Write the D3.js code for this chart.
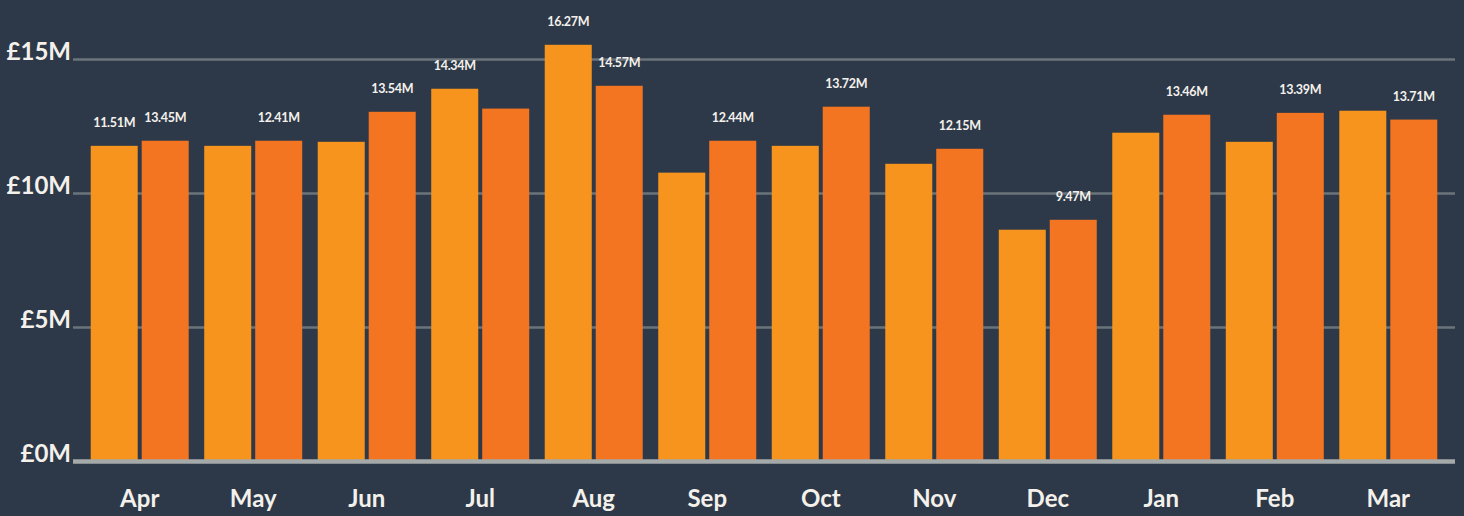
<!DOCTYPE html>
<html>
<head>
<meta charset="utf-8">
<script src="https://cdn.jsdelivr.net/npm/d3@7"></script>
<style>
  html, body { margin: 0; padding: 0; background: #2d3948; }
  svg { display: block; }
</style>
</head>
<body>
<div id="chart"></div>
<script>
// months of the financial year
const months = ["Apr", "May", "Jun", "Jul", "Aug", "Sep", "Oct", "Nov", "Dec", "Jan", "Feb", "Mar"];
// bar heights, £M
const seriesA = [11.76, 11.76, 11.91, 13.89, 15.53, 10.76, 11.76, 11.09, 8.63, 12.25, 11.91, 13.07];
const seriesB = [11.95, 11.95, 13.03, 13.15, 14.00, 11.95, 13.22, 11.65, 9.00, 12.92, 12.99, 12.74];
// value labels shown above bars (null = no label)
const labelsA = ["11.51M", null, null, "14.34M", "16.27M", null, null, null, null, null, null, null];
const labelsB = ["13.45M", "12.41M", "13.54M", null, "14.57M", "12.44M", "13.72M", "12.15M", "9.47M", "13.46M", "13.39M", "13.71M"];
const yTicks = [0, 5, 10, 15];

const width = 1464, height = 516;
const margin = { left: 73, right: 9, top: 59, bottom: 55 };
const colors = ["#f7941d", "#f37421"];
const font = "Lato, 'Open Sans', sans-serif";

const svg = d3.select("#chart").append("svg")
  .attr("width", width)
  .attr("height", height)
  .style("background", "#2d3948");

const x0 = d3.scaleBand()
  .domain(months)
  .range([margin.left, width - margin.right])
  .paddingInner(0.1366)
  .paddingOuter(0.156);

const x1 = d3.scaleBand()
  .domain([0, 1])
  .range([0, x0.bandwidth()])
  .paddingInner(0.078);

const y = d3.scaleLinear()
  .domain([0, 15])
  .range([461, margin.top]);

// gridlines + y labels
const yAxis = d3.axisLeft(y)
  .tickValues(yTicks)
  .tickSize(-(width - margin.right - margin.left))
  .tickPadding(2)
  .tickFormat(d => "£" + d + "M");

const gy = svg.append("g")
  .attr("transform", `translate(${margin.left},0)`)
  .call(yAxis);
gy.select(".domain").remove();
gy.selectAll("line")
  .attr("stroke", "#6b747b")
  .attr("stroke-width", 2.5);
gy.selectAll("text")
  .attr("dy", "0")
  .attr("fill", "#f4f1ec")
  .style("font-family", font)
  .style("font-weight", "bold")
  .style("font-size", "24px");

const rows = months.map((m, i) => ({
  month: m,
  vals: [
    { k: 0, v: seriesA[i], label: labelsA[i] },
    { k: 1, v: seriesB[i], label: labelsB[i] }
  ]
}));

const groups = svg.selectAll("g.month")
  .data(rows)
  .join("g")
  .attr("class", "month")
  .attr("transform", d => `translate(${x0(d.month)},0)`);

groups.selectAll("rect")
  .data(d => d.vals)
  .join("rect")
  .attr("x", d => x1(d.k))
  .attr("y", d => y(d.v))
  .attr("width", x1.bandwidth())
  .attr("height", d => y(0) - y(d.v))
  .attr("fill", d => colors[d.k]);

groups.selectAll("text")
  .data(d => d.vals.filter(v => v.label))
  .join("text")
  .attr("x", d => x1(d.k) + x1.bandwidth() / 2)
  .attr("y", d => y(d.v) - 18.5)
  .attr("text-anchor", "middle")
  .attr("fill", "#f4f1ec")
  .style("font-family", font)
  .style("font-weight", "bold")
  .style("font-size", "12.5px")
  .style("letter-spacing", "-0.3px")
  .text(d => d.label);

// baseline
svg.append("line")
  .attr("x1", margin.left)
  .attr("x2", width - margin.right)
  .attr("y1", y(0) + 0.5)
  .attr("y2", y(0) + 0.5)
  .attr("stroke", "#a4a9a9")
  .attr("stroke-width", 4.5);

// month labels
const xAxis = d3.axisBottom(x0).tickSize(0).tickPadding(0);
const gx = svg.append("g")
  .attr("transform", `translate(0,507)`)
  .call(xAxis);
gx.select(".domain").remove();
gx.selectAll("text")
  .attr("dy", "0")
  .attr("y", 0)
  .attr("fill", "#f4f1ec")
  .style("font-family", font)
  .style("font-weight", "bold")
  .style("font-size", "24px");
</script>
</body>
</html>
